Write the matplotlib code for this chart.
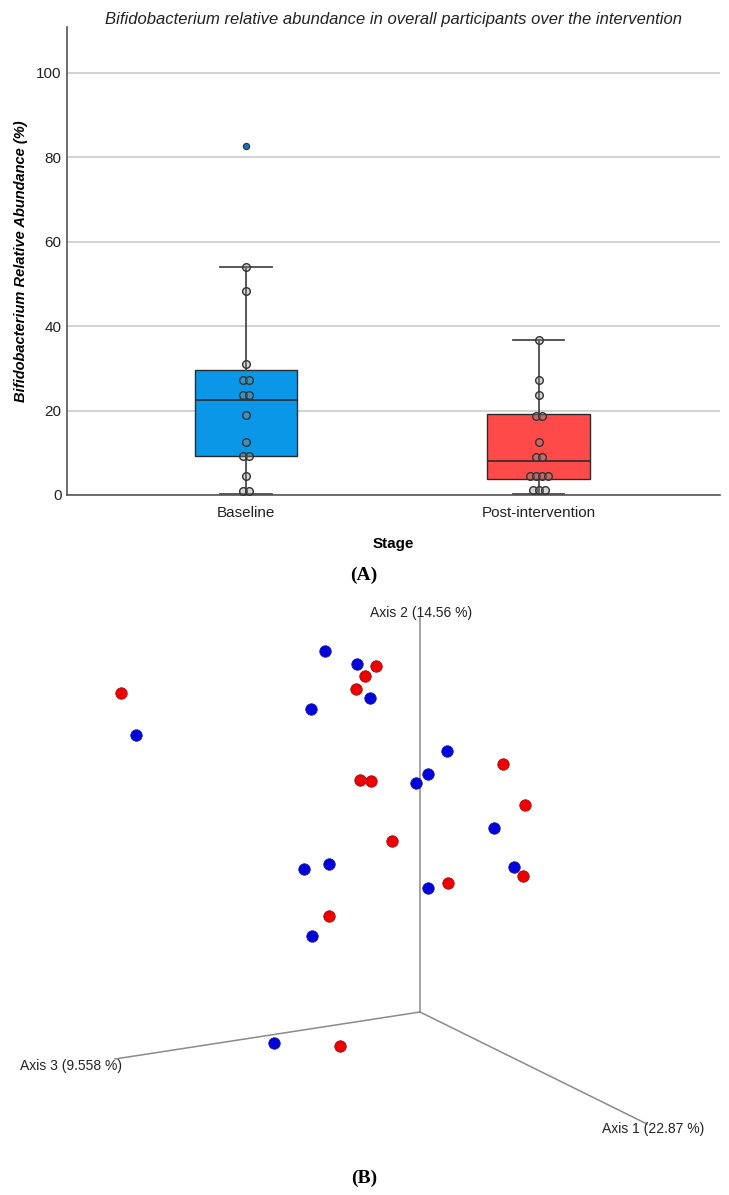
import matplotlib
matplotlib.use("Agg")
import matplotlib.pyplot as plt
from collections import Counter

# ---- panel A data ----
stages = ["Baseline", "Post-intervention"]
baseline_pts = [54.0, 48.3, 30.9, 27.3, 27.3, 23.6, 23.6, 18.9, 12.5, 9.2, 9.2, 4.4, 0.9, 0.9]
post_pts = [36.6, 27.2, 23.6, 18.8, 18.8, 12.5, 9.1, 9.1, 4.6, 4.6, 4.6, 4.6, 1.1, 1.1, 1.1]
baseline_outliers = [82.6]
post_outliers = []
# box summaries as drawn (SPSS hinges)
q1 = [9.3, 3.8]
med = [22.5, 8.0]
q3 = [29.6, 19.1]
whislo = [0.2, 0.2]
whishi = [54.0, 36.6]
box_colors = ["#0b97e8", "#ff4a4a"]

# ---- panel B data: PCoA points, projected (x right, y up, origin at axes vertex) ----
blue_x = [-95, -63, -50, -109, 27, 8, -4, 74, -91, -116, 94, 8, -108, -284, -146]
blue_y = [361, 348, 314, 303, 261, 238, 229, 184, 148, 143, 145, 124, 76, 277, -31]
red_x = [-44, -55, -64, 83, -60, -49, 105, -28, 103, 28, -91, -299, -80]
red_y = [346, 336, 323, 248, 232, 231, 207, 171, 136, 129, 96, 319, -34]
axis_names = ["Axis 1 (22.87 %)", "Axis 2 (14.56 %)", "Axis 3 (9.558 %)"]

narrow = ["Liberation Sans Narrow", "Liberation Sans", "DejaVu Sans"]
plt.rcParams["font.family"] = ["Liberation Sans", "DejaVu Sans"]

fig = plt.figure(figsize=(7.29, 11.95), dpi=100)

# ================= panel A =================
ax = fig.add_axes([67 / 729, 1 - 495 / 1195, 653 / 729, 468 / 1195])
pos = [1, 2]
stats = []
for i in range(2):
    stats.append(dict(med=med[i], q1=q1[i], q3=q3[i], whislo=whislo[i], whishi=whishi[i],
                      fliers=[baseline_outliers, post_outliers][i], label=stages[i]))
bp = ax.bxp(stats, positions=pos, widths=0.35, patch_artist=True, showfliers=True,
            boxprops=dict(edgecolor="#2b2b2b", linewidth=1.0),
            medianprops=dict(color="#2b2b2b", linewidth=1.2),
            whiskerprops=dict(color="#4a4a4a", linewidth=1.3),
            capprops=dict(color="#4a4a4a", linewidth=1.3),
            flierprops=dict(marker="o", markersize=4.5, markerfacecolor="#1b6fb5",
                            markeredgecolor="#1d3550", markeredgewidth=0.8),
            zorder=2)
for patch, c in zip(bp["boxes"], box_colors):
    patch.set_facecolor(c)

# dot overlay, equal values dodged side by side
step = 0.0205
for p, pts in zip(pos, [baseline_pts, post_pts]):
    counts = Counter(pts)
    seen = Counter()
    xs = []
    for v in pts:
        n = counts[v]
        xs.append(p + (seen[v] - (n - 1) / 2) * step)
        seen[v] += 1
    ax.plot(xs, pts, "o", ms=5.5, mfc=(0.55, 0.55, 0.55, 0.35), mec="#333333", mew=1.0,
            zorder=4, clip_on=False)

ax.set_xlim(0.388, 2.62)
ax.set_ylim(0, 110.8)
ax.set_yticks([0, 20, 40, 60, 80, 100])
ax.set_xticks(pos)
ax.set_xticklabels(stages, fontsize=11, family=narrow, color="#222222")
for t in ax.get_yticklabels():
    t.set_fontsize(11)
    t.set_family(narrow)
    t.set_color("#222222")
ax.tick_params(axis="both", length=0)
ax.tick_params(axis="y", pad=4)
ax.tick_params(axis="x", pad=8)
ax.grid(axis="y", color="#cfcfcf", linewidth=1.3, zorder=0)
ax.set_axisbelow(True)
for s in ["top", "right"]:
    ax.spines[s].set_visible(False)
for s in ["left", "bottom"]:
    ax.spines[s].set_color("#555555")
    ax.spines[s].set_linewidth(1.2)
ax.set_title("Bifidobacterium relative abundance in overall participants over the intervention",
             fontsize=12, style="italic", family=narrow, color="#222222", pad=2)
ax.set_ylabel("Bifidobacterium Relative Abundance (%)", fontsize=10.5, weight="bold",
              style="italic", labelpad=6)
ax.set_xlabel("Stage", fontsize=11, weight="bold", family=narrow, labelpad=12)

fig.text(364 / 729, 1 - 575 / 1195, "(A)", ha="center", va="center", fontsize=14,
         family=["Liberation Serif", "DejaVu Serif"], weight="bold")

# ================= panel B =================
bx = fig.add_axes([0, 0, 1, 1], facecolor="none")
bx.set_xlim(-420, 309)
bx.set_ylim(1012 - 1195, 1012)
bx.axis("off")
line_kw = dict(color="#8a8a8a", linewidth=1.1, zorder=1)
bx.plot([0, 227], [0, -112], **line_kw)
bx.plot([0, 0], [0, 395], **line_kw)
bx.plot([0, -305], [0, -47], **line_kw)
bx.scatter(blue_x, blue_y, s=68, c="#0000dd", edgecolors="#1a1a9a", linewidths=0.6, zorder=3)
bx.scatter(red_x, red_y, s=68, c="#ee0000", edgecolors="#a01010", linewidths=0.6, zorder=3)
bx.text(227 - 45, -117, axis_names[0], fontsize=10, ha="left", va="center", color="#222222")
bx.text(1, 399, axis_names[1], fontsize=10, ha="center", va="center", color="#222222")
bx.text(-400, -54, axis_names[2], fontsize=10, ha="left", va="center", color="#222222")

fig.text(364 / 729, 1 - 1178 / 1195, "(B)", ha="center", va="center", fontsize=14,
         family=["Liberation Serif", "DejaVu Serif"], weight="bold")

fig.savefig("out.png", dpi=100)
